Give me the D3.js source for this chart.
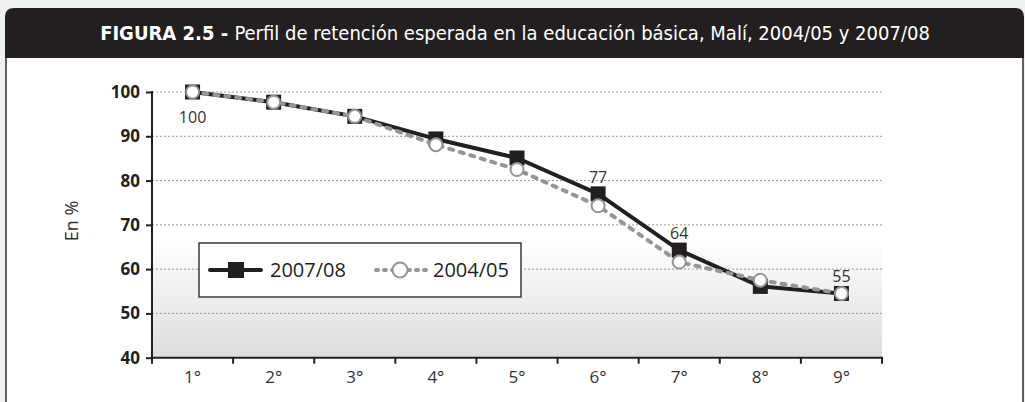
<!DOCTYPE html>
<html>
<head>
<meta charset="utf-8">
<script src="https://cdn.jsdelivr.net/npm/d3@7/dist/d3.min.js"></script>
<style>
  body { margin: 0; background: #eff0f2; }
  svg { display: block; }
</style>
</head>
<body>
<div class="chart"></div>
<script>
// Chart data
var grades = ["1°", "2°", "3°", "4°", "5°", "6°", "7°", "8°", "9°"];
var values0708 = [100, 97.7, 94.5, 89.4, 85.1, 77, 64.3, 56.1, 54.5];
var values0405 = [100, 97.7, 94.5, 88.1, 82.5, 74.3, 61.6, 57.5, 54.5];
var labelIdx = [0, 5, 6, 8];           // points of 2007/08 that carry a value label
var yTicks = [40, 50, 60, 70, 80, 90, 100];
var seriesNames = ["2007/08", "2004/05"];

var svgWidth = 1025;
var svgHeight = 402;
var bodyFont = "'Open Sans', 'Noto Sans', sans-serif";

// plot area inside the figure frame
var plot = { left: 152, right: 882, top: 92, bottom: 357.7 };

var svg = d3.select(".chart")
    .append("svg")
    .attr("width", svgWidth)
    .attr("height", svgHeight);

var defs = svg.append("defs");
var grad = defs.append("linearGradient")
    .attr("id", "bg")
    .attr("x1", 0).attr("y1", 0).attr("x2", 0).attr("y2", 1);
grad.append("stop").attr("offset", "0%").attr("stop-color", "#ffffff");
grad.append("stop").attr("offset", "55%").attr("stop-color", "#ffffff");
grad.append("stop").attr("offset", "100%").attr("stop-color", "#dcdddf");

// Frame: white panel with side borders, dark title bar with rounded top corners
svg.append("rect")
    .attr("x", 6).attr("y", 50)
    .attr("width", 1017).attr("height", 360)
    .attr("fill", "#fff")
    .attr("stroke", "#3a3a3a")
    .attr("stroke-width", 1.6);

svg.append("path")
    .attr("d", "M5,58 L5,17 Q5,8 14,8 L1015,8 Q1024,8 1024,17 L1024,58 Z")
    .attr("fill", "#231f20");

var title = svg.append("text")
    .attr("x", 515)
    .attr("y", 40)
    .attr("text-anchor", "middle")
    .style("font-family", "'Liberation Sans Narrow', 'DejaVu Sans Condensed', sans-serif")
    .style("font-size", "20px")
    .attr("fill", "#fff");
title.append("tspan").style("font-weight", "bold").text("FIGURA 2.5 - ");
title.append("tspan").text("Perfil de retención esperada en la educación básica, Malí, 2004/05 y 2007/08");

// Scales
var x = d3.scaleBand().domain(grades).range([plot.left, plot.right]).padding(0);
var y = d3.scaleLinear().domain([40, 100]).range([plot.bottom, plot.top]);
var cx = function(d, i) { return x(grades[i]) + x.bandwidth() / 2; };

var chart = svg.append("g");

// plot background
chart.append("rect")
    .attr("x", plot.left).attr("y", y(100))
    .attr("width", plot.right - plot.left)
    .attr("height", y(40) - y(100))
    .attr("fill", "url(#bg)");

// gridlines
chart.append("g")
    .selectAll("line")
    .data(yTicks.filter(function(t) { return t > 40; }))
    .enter()
    .append("line")
    .attr("x1", plot.left).attr("x2", plot.right)
    .attr("y1", function(d) { return y(d); })
    .attr("y2", function(d) { return y(d); })
    .attr("stroke", "#9a9a9a")
    .attr("stroke-width", 1)
    .attr("stroke-dasharray", "2,2");

// y axis
var leftAxis = d3.axisLeft(y).tickValues(yTicks).tickSize(6).tickPadding(6);
var gy = chart.append("g")
    .attr("transform", "translate(" + plot.left + ",0)")
    .call(leftAxis);
gy.select(".domain").remove();
gy.selectAll("line").attr("stroke", "#231f20").attr("stroke-width", 2);
gy.selectAll("text")
    .style("font-family", bodyFont)
    .style("font-weight", "bold")
    .style("font-size", "17px")
    .attr("fill", "#231f20");
gy.append("line")
    .attr("x1", 0).attr("x2", 0)
    .attr("y1", y(100) - 1).attr("y2", y(40) + 1)
    .attr("stroke", "#231f20").attr("stroke-width", 2);

// x axis: labels centred in each band, ticks on band edges
var bottomAxis = d3.axisBottom(x).tickSize(0).tickPadding(13);
var gx = chart.append("g")
    .attr("transform", "translate(0," + plot.bottom + ")")
    .call(bottomAxis);
gx.select(".domain").remove();
gx.selectAll("text")
    .style("font-family", bodyFont)
    .style("font-size", "17px")
    .attr("fill", "#333");
gx.append("line")
    .attr("x1", plot.left - 1).attr("x2", plot.right + 1)
    .attr("y1", 0).attr("y2", 0)
    .attr("stroke", "#231f20").attr("stroke-width", 2);
gx.selectAll(".edge")
    .data(grades.map(function(g) { return x(g); }).concat([plot.right]))
    .enter()
    .append("line")
    .attr("class", "edge")
    .attr("x1", function(d) { return d; }).attr("x2", function(d) { return d; })
    .attr("y1", 0).attr("y2", 6)
    .attr("stroke", "#231f20").attr("stroke-width", 2);

// y axis title
chart.append("text")
    .attr("transform", "translate(78," + 221 + ") rotate(-90)")
    .attr("text-anchor", "middle")
    .style("font-family", bodyFont)
    .style("font-size", "18px")
    .attr("fill", "#333")
    .text("En %");

// Lines
var line = d3.line()
    .x(cx)
    .y(function(d) { return y(d); });

chart.append("path")
    .datum(values0708)
    .attr("d", line)
    .attr("fill", "none")
    .attr("stroke", "#231f20")
    .attr("stroke-width", 4)
    .attr("stroke-linejoin", "round");

chart.selectAll(".sq")
    .data(values0708)
    .enter()
    .append("rect")
    .attr("class", "sq")
    .attr("x", function(d, i) { return cx(d, i) - 7.5; })
    .attr("y", function(d) { return y(d) - 7.5; })
    .attr("width", 15).attr("height", 15)
    .attr("fill", "#231f20");

chart.append("path")
    .datum(values0405)
    .attr("d", line)
    .attr("fill", "none")
    .attr("stroke", "#939598")
    .attr("stroke-width", 4)
    .attr("stroke-linecap", "round")
    .attr("stroke-dasharray", "4,7");

chart.selectAll(".ci")
    .data(values0405)
    .enter()
    .append("circle")
    .attr("class", "ci")
    .attr("cx", cx)
    .attr("cy", function(d) { return y(d); })
    .attr("r", 6.5)
    .attr("fill", "#fff")
    .attr("stroke", "#939598")
    .attr("stroke-width", 2);

// value labels
chart.selectAll(".lbl")
    .data(labelIdx)
    .enter()
    .append("text")
    .attr("class", "lbl")
    .attr("x", function(i) { return cx(null, i); })
    .attr("y", function(i) { return i === 0 ? y(values0708[i]) + 31 : y(values0708[i]) - 11; })
    .attr("text-anchor", "middle")
    .style("font-family", bodyFont)
    .style("font-size", "16px")
    .attr("fill", "#333")
    .text(function(i) { return Math.round(values0708[i]); });

// Legend
var legend = chart.append("g");
legend.append("rect")
    .attr("x", 199).attr("y", 243)
    .attr("width", 322).attr("height", 54)
    .attr("fill", "#fff")
    .attr("stroke", "#3a3a3a")
    .attr("stroke-width", 1.5);

legend.append("line")
    .attr("x1", 210).attr("x2", 261).attr("y1", 270).attr("y2", 270)
    .attr("stroke", "#231f20").attr("stroke-width", 4).attr("stroke-linecap", "round");
legend.append("rect")
    .attr("x", 228).attr("y", 262).attr("width", 16).attr("height", 16)
    .attr("fill", "#231f20");

legend.append("line")
    .attr("x1", 376).attr("x2", 427).attr("y1", 270).attr("y2", 270)
    .attr("stroke", "#939598").attr("stroke-width", 4)
    .attr("stroke-linecap", "round").attr("stroke-dasharray", "2,6");
legend.append("circle")
    .attr("cx", 400).attr("cy", 270).attr("r", 7.5)
    .attr("fill", "#fff").attr("stroke", "#939598").attr("stroke-width", 2);

legend.selectAll(".lt")
    .data(seriesNames)
    .enter()
    .append("text")
    .attr("class", "lt")
    .attr("x", function(d, i) { return i === 0 ? 270 : 433; })
    .attr("y", 277)
    .style("font-family", bodyFont)
    .style("font-size", "20px")
    .attr("fill", "#231f20")
    .text(function(d) { return d; });
</script>
</body>
</html>
